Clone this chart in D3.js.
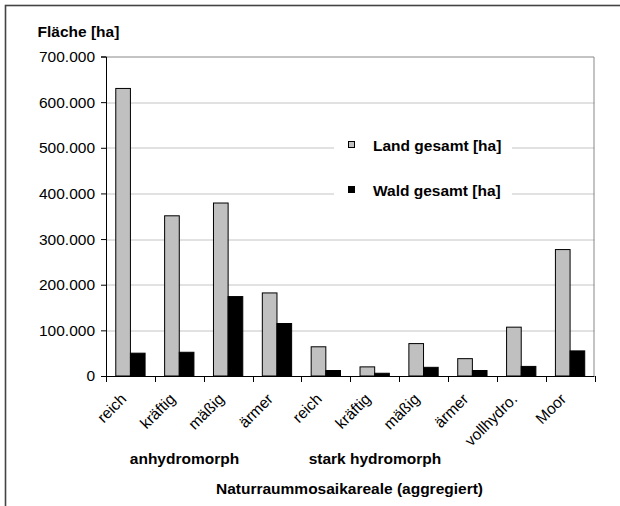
<!DOCTYPE html>
<html>
<head>
<meta charset="utf-8">
<script src="https://cdnjs.cloudflare.com/ajax/libs/d3/7.8.5/d3.min.js"></script>
<style>
  body { margin: 0; background: #fff; }
  svg { display: block; font-family: "Liberation Sans", Arial, sans-serif; }
</style>
</head>
<body>
<div id="wrapper"></div>
<script>
const categories = ["reich", "kräftig", "mäßig", "ärmer", "reich", "kräftig", "mäßig", "ärmer", "vollhydro.", "Moor"]
const landValues = [630000, 351000, 379000, 182000, 64000, 20000, 71000, 38000, 107000, 277000]
const waldValues = [50000, 52000, 174000, 115000, 12000, 6000, 19000, 12000, 21000, 55000]
const seriesNames = ["Land gesamt [ha]", "Wald gesamt [ha]"]
const seriesColors = ["#c0c0c0", "#000000"]
const yTicks = [0, 100000, 200000, 300000, 400000, 500000, 600000, 700000]
const groupLabels = ["anhydromorph", "stark hydromorph"]

function drawBarChart() {
  const dimensions = {
    width: 620,
    height: 506,
    margin: { top: 56.5, right: 25.5, bottom: 130, left: 106 },
  }
  dimensions.boundedWidth = dimensions.width - dimensions.margin.left - dimensions.margin.right
  dimensions.boundedHeight = dimensions.height - dimensions.margin.top - dimensions.margin.bottom

  const wrapper = d3.select("#wrapper")
    .append("svg")
      .attr("width", dimensions.width)
      .attr("height", dimensions.height)

  // outer frame, cut off at the right and bottom
  wrapper.append("rect")
    .attr("x", 5.5)
    .attr("y", 5.5)
    .attr("width", 700)
    .attr("height", 600)
    .attr("fill", "none")
    .attr("stroke", "#444")
    .attr("stroke-width", 1.6)

  wrapper.append("text")
    .attr("x", 37.5)
    .attr("y", 36.5)
    .style("font-size", "15.5px")
    .style("font-weight", "bold")
    .text("Fläche [ha]")

  const bounds = wrapper.append("g")
    .attr("transform", `translate(${dimensions.margin.left}, ${dimensions.margin.top})`)

  const yScale = d3.scaleLinear()
    .domain([0, 700000])
    .range([dimensions.boundedHeight, 0])

  const xScale = d3.scaleBand()
    .domain(d3.range(categories.length))
    .range([0, dimensions.boundedWidth])

  const seriesScale = d3.scaleBand()
    .domain([0, 1])
    .range([0, xScale.bandwidth()])
    .paddingInner(0)
    .paddingOuter(0.667)

  // gridlines
  bounds.selectAll(".grid")
    .data(yTicks.filter(d => d > 0 && d < 700000))
    .join("line")
      .attr("class", "grid")
      .attr("x1", 0)
      .attr("x2", dimensions.boundedWidth)
      .attr("y1", d => Math.round(yScale(d)) + 0.5)
      .attr("y2", d => Math.round(yScale(d)) + 0.5)
      .attr("stroke", "#c4c4c4")
      .attr("stroke-width", 1)

  // plot border top and right
  bounds.append("path")
    .attr("d", `M0,0.5H${dimensions.boundedWidth - 0.5}V${dimensions.boundedHeight}`)
    .attr("fill", "none")
    .attr("stroke", "#888")
    .attr("stroke-width", 1)

  // legend box covers gridlines
  const legend = bounds.append("g")
    .attr("transform", `translate(${334 - dimensions.margin.left}, ${130 - dimensions.margin.top})`)
  legend.append("rect")
    .attr("width", 178)
    .attr("height", 80)
    .attr("fill", "#fff")

  const legendItems = legend.selectAll(".legend-item")
    .data(seriesNames)
    .join("g")
      .attr("class", "legend-item")
      .attr("transform", (d, i) => `translate(0, ${15 + i * 45})`)
  legendItems.append("rect")
    .attr("x", 14.5)
    .attr("y", -3.5)
    .attr("width", 6)
    .attr("height", 6)
    .attr("fill", (d, i) => seriesColors[i])
    .attr("stroke", "#000")
    .attr("stroke-width", 1)
  legendItems.append("text")
    .attr("x", 39)
    .attr("y", 5.5)
    .style("font-size", "15.5px")
    .style("font-weight", "bold")
    .text(d => d)

  // bars
  const seriesData = [landValues, waldValues]
  seriesData.forEach((values, s) => {
    bounds.selectAll(`.bar-${s}`)
      .data(values)
      .join("rect")
        .attr("class", `bar-${s}`)
        .attr("x", (d, i) => xScale(i) + seriesScale(s))
        .attr("y", d => yScale(d))
        .attr("width", seriesScale.bandwidth())
        .attr("height", d => dimensions.boundedHeight - yScale(d))
        .attr("fill", seriesColors[s])
        .attr("stroke", "#000")
        .attr("stroke-width", 1)
  })

  // y axis
  const de = d3.formatLocale({ decimal: ",", thousands: ".", grouping: [3], currency: ["", "€"] })
  const yAxisGenerator = d3.axisLeft()
    .scale(yScale)
    .tickValues(yTicks)
    .tickFormat(de.format(",d"))
    .tickSizeOuter(0)
    .tickSize(5)
    .tickPadding(6)

  const yAxis = bounds.append("g")
    .call(yAxisGenerator)
    .style("font-size", "15.5px")
    .style("font-family", "'Liberation Sans', Arial, sans-serif")
  yAxis.selectAll("text").attr("fill", "#000")
  yAxis.selectAll("line").attr("stroke", "#000")
  yAxis.select(".domain").attr("stroke", "#000")

  // x axis with ticks on category boundaries
  const xAxis = bounds.append("g")
    .attr("transform", `translate(0, ${dimensions.boundedHeight})`)
  xAxis.append("line")
    .attr("x1", 0)
    .attr("x2", dimensions.boundedWidth)
    .attr("y1", 0.5)
    .attr("y2", 0.5)
    .attr("stroke", "#000")
  const boundaries = d3.range(categories.length + 1)
  xAxis.selectAll(".xtick")
    .data(boundaries)
    .join("line")
      .attr("class", "xtick")
      .attr("x1", d => Math.round(d * xScale.step()) + 0.5)
      .attr("x2", d => Math.round(d * xScale.step()) + 0.5)
      .attr("y1", 0)
      .attr("y2", 6)
      .attr("stroke", "#000")

  xAxis.selectAll(".xlabel")
    .data(categories)
    .join("text")
      .attr("class", "xlabel")
      .attr("transform", (d, i) => `translate(${xScale(i) + xScale.bandwidth() / 2 - 3}, 24) rotate(-45)`)
      .style("text-anchor", "end")
      .style("font-size", "15.5px")
      .text(d => d)

  // group labels
  const groupCenters = [184.5 - dimensions.margin.left, 375 - dimensions.margin.left]
  xAxis.selectAll(".group-label")
    .data(groupLabels)
    .join("text")
      .attr("class", "group-label")
      .attr("x", (d, i) => groupCenters[i])
      .attr("y", 463.5 - dimensions.margin.top - dimensions.boundedHeight)
      .style("text-anchor", "middle")
      .style("font-size", "15.5px")
      .style("font-weight", "bold")
      .text(d => d)

  wrapper.append("text")
    .attr("x", 349.5)
    .attr("y", 493.5)
    .style("text-anchor", "middle")
    .style("font-size", "15.5px")
    .style("font-weight", "bold")
    .text("Naturraummosaikareale (aggregiert)")
}

drawBarChart()
</script>
</body>
</html>
